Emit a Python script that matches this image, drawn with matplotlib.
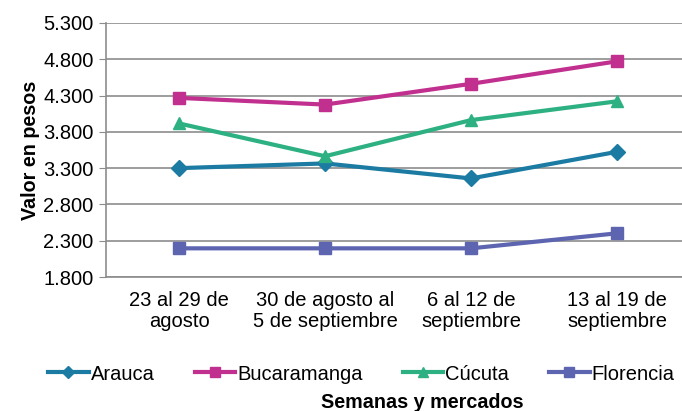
import matplotlib.pyplot as plt
from matplotlib.ticker import FuncFormatter

plt.rcParams['font.family'] = ['Liberation Sans', 'DejaVu Sans']

semanas = ['23 al 29 de\nagosto', '30 de agosto al\n5 de septiembre',
           '6 al 12 de\nseptiembre', '13 al 19 de\nseptiembre']
arauca = [3300, 3365, 3158, 3525]
bucaramanga = [4268, 4176, 4462, 4772]
cucuta = [3916, 3464, 3962, 4221]
florencia = [2195, 2195, 2195, 2402]

series = [('Arauca', arauca, '#1B7BA3', 'D', 8),
          ('Bucaramanga', bucaramanga, '#C1308E', 's', 9),
          ('Cúcuta', cucuta, '#2DB082', '^', 9),
          ('Florencia', florencia, '#5D65B1', 's', 9)]

fig = plt.figure(figsize=(6.82, 4.11), dpi=100)
ax = fig.add_axes([106/682, 1 - 277/411, 1 - 106/682, 254/411])

x = range(len(semanas))
for name, vals, col, mk, ms in series:
    ax.plot(x, vals, color=col, lw=3, marker=mk, ms=ms, label=name)

ax.set_ylim(1800, 5300)
ax.set_yticks(range(1800, 5301, 500))
ax.yaxis.set_major_formatter(FuncFormatter(lambda v, p: '{:,.0f}'.format(v).replace(',', '.')))
ax.set_xlim(-0.5, 3.445)
ax.set_xticks(list(x))
ax.set_xticklabels(semanas, linespacing=1.15)
ax.grid(axis='y', color='#8c8c8c', lw=1.2)
ax.set_axisbelow(True)
for s in ['top', 'right']:
    ax.spines[s].set_visible(False)
for s in ['left', 'bottom']:
    ax.spines[s].set_color('#8c8c8c')
    ax.spines[s].set_linewidth(1.2)
ax.tick_params(axis='y', length=5, color='#8c8c8c', labelsize=14.5, pad=4)
ax.tick_params(axis='x', length=0, labelsize=14.5, pad=10)
ax.set_ylabel('Valor en pesos', fontsize=14.2, fontweight='bold', labelpad=2)

fig.legend(loc='center', bbox_to_anchor=(0.53, 1 - 374/411), ncol=4, frameon=False,
           fontsize=14.5, handlelength=2.0, handletextpad=0.1, columnspacing=2.0,
           markerscale=0.75)
fig.text(0.619, 1 - 402/411, 'Semanas y mercados', ha='center', va='center',
         fontsize=14.2, fontweight='bold')

fig.savefig('out.png', dpi=100)
